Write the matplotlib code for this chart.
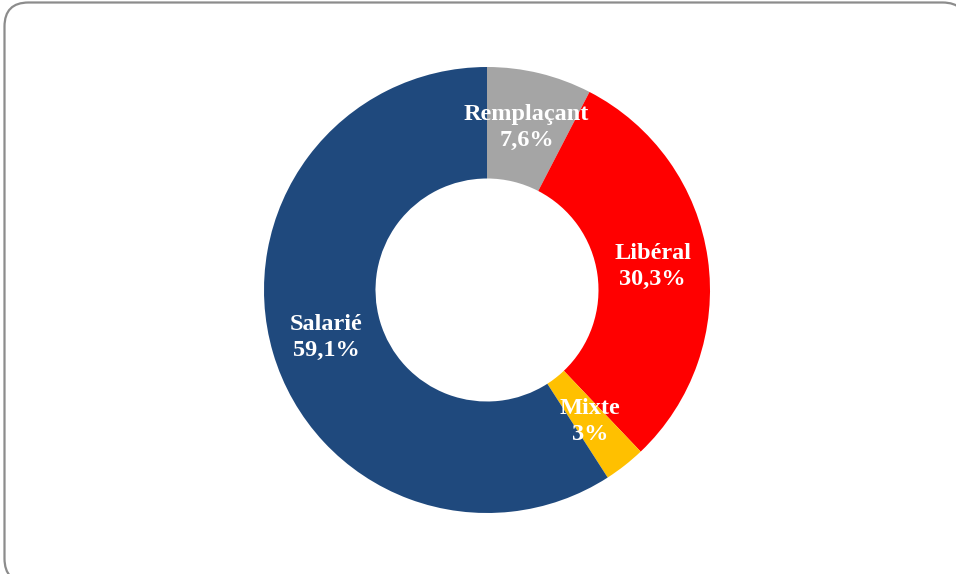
import matplotlib.pyplot as plt
from matplotlib.patches import FancyBboxPatch

categories = ["Remplaçant", "Libéral", "Mixte", "Salarié"]
values = [7.6, 30.3, 3.0, 59.1]
colors = ["#A5A5A5", "#FF0000", "#FFC000", "#1F497D"]


def fmt(v):
    s = f"{v:.1f}".replace(".", ",")
    if s.endswith(",0"):
        s = s[:-2]
    return s + "%"


labels = [f"{c}\n{fmt(v)}" for c, v in zip(categories, values)]

W, H = 956, 574
fig = plt.figure(figsize=(W / 100, H / 100), dpi=100)

# cadre arrondi (coupe a droite et en bas)
bg = fig.add_axes([0, 0, 1, 1])
bg.set_xlim(0, W)
bg.set_ylim(H, 0)
bg.axis("off")
cadre = FancyBboxPatch((4.5, 2.5), 962, 580,
                       boxstyle="round,pad=0,rounding_size=24",
                       fc="white", ec="#8C8C8C", lw=1.6)
bg.add_patch(cadre)

# anneau
cx, cy, r = 487, 290, 223
ax = fig.add_axes([(cx - r) / W, (H - cy - r) / H, 2 * r / W, 2 * r / H])
wedges, texts = ax.pie(values, labels=labels, colors=colors, startangle=90,
                       counterclock=False, radius=1, labeldistance=0.75,
                       wedgeprops=dict(width=0.5, linewidth=0),
                       textprops=dict(color="white", fontsize=17.5,
                                      fontweight="bold",
                                      family="Liberation Serif",
                                      linespacing=1.3))
for t in texts:
    t.set_ha("center")
    t.set_va("center")
ax.set_xlim(-1, 1)
ax.set_ylim(-1, 1)
ax.set_aspect("equal")
ax.axis("off")

fig.savefig("out.png", dpi=100)
